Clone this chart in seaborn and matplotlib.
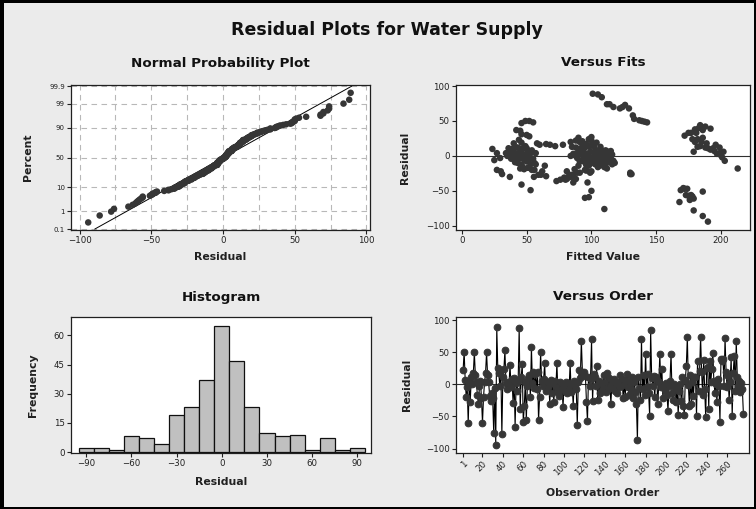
import numpy as np
import pandas as pd
import matplotlib
matplotlib.use("Agg")
import matplotlib.pyplot as plt
import seaborn as sns
from statistics import NormalDist
from matplotlib.patches import Rectangle

# ---------------- data ----------------
residuals = [
    23, 51, 7, -19, -4, -61, 3, -27, 12, 0,
    17, 50, 14, 3, -17, -31, -3, 6, -22, -60,
    -20, 3, 18, 50, 14, 4, -18, -26, -14, -22,
    -76, -6, -94, 89, 26, 17, -3, 22, -78, 12,
    24, 53, 2, -7, 4, 0, 30, -4, 8, -29,
    10, -66, 2, -10, 6, 88, -38, 12, 31, -59,
    -34, 4, -56, -2, 10, 14, -20, 58, 2, 20,
    -6, 16, -8, 19, -56, -20, 50, 6, -3, 8,
    33, -10, 4, -4, 1, -30, 7, -14, 2, -28,
    6, -4, 33, -12, -18, 3, -8, 1, -36, -2,
    -10, 4, -13, 2, -6, 33, -12, 0, -33, 6,
    -1, -8, -63, 3, 22, 10, 68, 20, 18, 19,
    13, -27, -57, 12, -2, 8, 70, -26, 16, 11,
    -3, 28, -24, 6, -14, 2, -10, -4, 14, 4,
    -12, 17, -8, 10, -2, -30, 4, -6, 8, -10,
    0, -13, 3, -4, 14, -3, 9, -21, 1, -19,
    7, 16, -4, -17, 2, -7, 11, -22, 4, -12,
    -30, -86, 12, -6, -24, 70, -8, 14, -16, 48,
    -4, 16, -13, -49, 84, 10, -2, 13, -20, 11,
    7, -31, 3, 47, -4, 24, -22, -1, -9, 2,
    -16, -41, -3, 6, 48, -14, -24, 0, -7, -27,
    -4, -47, -11, 1, -26, 12, -33, -47, 7, 29,
    74, -1, -34, 14, -30, 4, -18, 12, 11, -49,
    37, -10, 21, 74, 20, -16, 38, -7, -51, 26,
    27, -38, 37, 3, 24, 49, 6, -13, 1, -27,
    9, -2, -58, 40, 36, 39, -2, 73, 20, -4,
    13, -24, 4, 42, -50, 18, 44, -10, 68, 11,
    -3, 6, -12, 2, -8, -46,
]

fitted = [
    44, 137, 92, 48, 104, 179, 38, 59, 88, 45,
    96, 49, 72, 110, 52, 82, 29.5, 99, 30, 95,
    27, 86, 40, 52, 102, 36, 112, 31, 90, 62,
    110, 25, 190, 101, 90, 65, 94, 88, 179, 42,
    98, 133, 47, 108, 27, 84, 50, 50, 106, 65,
    23.5, 168, 97, 43, 113, 105, 86, 48, 46, 98,
    80, 53, 177, 101, 39, 93, 56, 132, 116, 84,
    41, 68, 105, 46, 173, 95, 139, 37, 89, 54,
    175, 100, 44, 111, 49, 55.6, 91, 64, 107, 86,
    51, 96, 181, 103, 45, 114, 50, 87, 73, 40,
    99, 57, 110, 92, 48, 177, 116, 35, 88, 104,
    52, 94, 176, 109, 100, 47, 122, 91, 58, 104,
    85, 83, 175, 43, 98, 108, 117, 130, 78, 50,
    112, 52, 91, 46, 106, 42, 118, 38, 97, 89,
    53, 102, 114, 45, 106, 37, 95, 49, 111, 101,
    41, 108, 90, 55, 99, 47, 103, 96, 44, 87,
    115, 60, 109, 51, 93, 117, 36, 81, 102, 57,
    84, 186, 95, 43, 89, 124, 113, 49, 105, 143,
    97, 196, 46, 169, 108, 90, 39, 107, 54, 94,
    52, 79, 112, 46, 50, 182, 100, 106, 41, 88,
    110, 46, 45, 202, 55, 98, 130, 48, 92, 85,
    53, 172, 104, 42, 131, 199, 81, 174, 195, 172,
    114, 115, 76, 184, 86, 34, 213, 188, 194, 53,
    42, 102, 93, 112, 180, 47, 180, 203, 186, 186,
    100, 97, 186, 197, 178, 141, 40, 96, 200, 61,
    192, 109, 178, 183, 45, 192, 201, 126, 185, 44,
    182, 99, 199, 188, 100, 189, 184, 56, 129, 190,
    103, 179, 111, 51, 91, 171,
]

prob_ticks = [0.1, 1, 10, 50, 90, 99, 99.9]
prob_labels = ["0.1", "1", "10", "50", "90", "99", "99.9"]
np_xticks = [-100, -50, 0, 50, 100]
fit_xticks = [0, 50, 100, 150, 200]
res_yticks = [-100, -50, 0, 50, 100]
hist_xticks = [-90, -60, -30, 0, 30, 60, 90]
hist_yticks = [0, 15, 30, 45, 60]
order_ticks = [1, 20, 40, 60, 80, 100, 120, 140, 160, 180, 200, 220, 240, 260]

main_title = "Residual Plots for Water Supply"
titles = ["Normal Probability Plot", "Versus Fits", "Histogram", "Versus Order"]

# ---------------- style ----------------
sns.set_style("white")
plt.rcParams["font.family"] = ["DejaVu Sans"]
BG = "#ebebeb"
DOT = "#363636"
W, H = 756, 509

df = pd.DataFrame({"obs": np.arange(1, len(residuals) + 1),
                   "residual": residuals, "fitted": fitted})

fig = plt.figure(figsize=(W / 100, H / 100), dpi=100, facecolor=BG)


def ax_at(l, t, r, b):
    ax = fig.add_axes([l / W, 1 - b / H, (r - l) / W, (b - t) / H])
    ax.set_facecolor("white")
    for s in ax.spines.values():
        s.set_color("#202020")
        s.set_linewidth(0.9)
    ax.tick_params(direction="out", length=3, width=0.8, color="#202020",
                   labelsize=6.2, pad=1.5, labelcolor="#202020",
                   left=True, bottom=True)
    return ax, (l, t, r, b)


def labels(ax, box, xl, xl_y, yl, yl_x):
    l, t, r, b = box
    ax.set_xlabel(xl, fontsize=7.8, fontweight="bold", color="#202020")
    ax.xaxis.set_label_coords(0.5, (b - xl_y) / (b - t))
    ax.xaxis.label.set_va("center")
    ax.set_ylabel(yl, fontsize=7.8, fontweight="bold", color="#202020")
    ax.yaxis.set_label_coords((yl_x - l) / (r - l), 0.5)
    ax.yaxis.label.set_va("center")


# ---------------- Normal probability plot ----------------
ax1, b1 = ax_at(71, 85, 370, 230)
nd = NormalDist()
srt = np.sort(df["residual"].to_numpy(dtype=float))
n = len(srt)
pp = (np.arange(1, n + 1) - 0.3) / (n + 0.4)
zz = np.array([nd.inv_cdf(p) for p in pp])
mu, sd = srt.mean(), srt.std(ddof=1)
zl = np.array([nd.inv_cdf(0.001), nd.inv_cdf(0.999)])
ax1.plot(mu + sd * zl, zl, color="black", lw=0.7, zorder=2)
sns.scatterplot(x=srt, y=zz, ax=ax1, color=DOT, s=22, edgecolor="none",
                linewidth=0, zorder=3)
ax1.set_xlim(-106, 102.5)
ax1.set_ylim(-3.13, 3.14)
ax1.set_xticks(np_xticks)
ax1.set_xticks([-75, -25, 25, 75], minor=True)
ax1.tick_params(axis="x", which="minor", length=0)
ax1.set_yticks([nd.inv_cdf(p / 100) for p in prob_ticks])
ax1.set_yticklabels(prob_labels, fontsize=5)
ax1.grid(True, which="both", axis="x", color="#b8b8b8", lw=0.8, ls=(0, (5, 4)))
ax1.grid(True, which="major", axis="y", color="#b8b8b8", lw=0.8, ls=(0, (5, 4)))
ax1.set_axisbelow(True)
labels(ax1, b1, "Residual", 257, "Percent", 28)

# ---------------- Versus fits ----------------
ax2, b2 = ax_at(456, 85, 750, 230)
ax2.axhline(0, color="#303030", lw=0.8, zorder=1)
sns.scatterplot(data=df, x="fitted", y="residual", ax=ax2, color=DOT, s=22,
                edgecolor="none", linewidth=0, zorder=3)
ax2.set_xlim(-4.6, 222.5)
ax2.set_ylim(-106, 101.5)
ax2.set_xticks(fit_xticks)
ax2.set_yticks(res_yticks)
labels(ax2, b2, "Fitted Value", 257, "Residual", 405)

# ---------------- Histogram ----------------
ax3, b3 = ax_at(71, 317, 371, 453)
sns.histplot(data=df, x="residual", bins=np.arange(-95, 96, 10), ax=ax3,
             color="#c0c0c0", edgecolor="#101010", linewidth=0.9, alpha=1)
ax3.set_xlim(-100, 99)
ax3.set_ylim(-0.5, 69.5)
ax3.set_xticks(hist_xticks)
ax3.set_yticks(hist_yticks)
labels(ax3, b3, "Residual", 482, "Frequency", 33)

# ---------------- Versus order ----------------
ax4, b4 = ax_at(456, 317, 749, 453)
ax4.axhline(0, color="#303030", lw=0.8, zorder=1)
sns.lineplot(data=df, x="obs", y="residual", ax=ax4, sort=False,
             estimator=None, color="black", lw=0.8, marker="o",
             markersize=4.8, markerfacecolor=DOT, markeredgecolor=DOT,
             zorder=3)
ax4.set_xlim(-6, 281.5)
ax4.set_ylim(-107, 105)
ax4.set_xticks(order_ticks)
ax4.set_xticklabels([str(t) for t in order_ticks], rotation=45, ha="right",
                    rotation_mode="anchor")
ax4.set_yticks(res_yticks)
labels(ax4, b4, "Observation Order", 493, "Residual", 407)

# ---------------- titles ----------------
fig.text(387 / W, 1 - 30 / H, main_title, ha="center", va="center",
         fontsize=12.5, fontweight="bold", color="#111111")
for (x, y), t in zip([(220, 63), (603, 63), (221, 297), (603, 297)], titles):
    fig.text(x / W, 1 - y / H, t, ha="center", va="center", fontsize=9.7,
             fontweight="bold", color="#111111")

# ---------------- frame ----------------
for rect in [(0, 0, 4 / W, 1), (0, 1 - 3 / H, 1, 3 / H),
             (1 - 2 / W, 0, 2 / W, 1), (0, 0, 1, 2 / H)]:
    fig.add_artist(Rectangle(rect[:2], rect[2], rect[3],
                             transform=fig.transFigure, color="black", lw=0))

fig.savefig("out.png", dpi=100, facecolor=BG)
